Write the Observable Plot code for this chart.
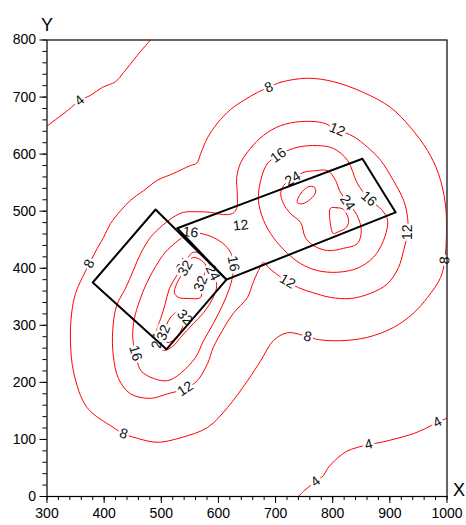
<!DOCTYPE html>
<html>
<head>
<meta charset="utf-8">
<script src="https://cdn.jsdelivr.net/npm/d3@7"></script>
<script src="https://cdn.jsdelivr.net/npm/@observablehq/plot@0.6"></script>
<style>
  html, body { margin: 0; padding: 0; background: #fff; }
  #chart { width: 466px; height: 525px; }
</style>
</head>
<body>
<div id="chart"></div>
<script>
// Isolines of the measured field (open lines and closed loops), in X/Y units
const contour4 = [
  [[301,650],[338,678],[357,694],[376,703],[397,717],[420,727],[434,743],[458,773],[481,800]],
  [[738,-2],[751,11],[770,26],[784,37],[791,49],[808,67],[824,79],[843,86],[863,91],[885,95],[913,102],[941,110],[962,119],[983,130],[1002,138]]
];
const contour8 = [
  [[688,717],[709,726],[756,733],[801,727],[854,708],[901,682],[936,647],[966,606],[985,566],[997,514],[999,460],[996,414],[989,384],[966,349],[941,321],[906,296],[861,279],[814,273],[775,275],[756,280],[721,287],[696,273],[674,238],[651,203],[616,156],[581,121],[534,103],[493,95],[458,102],[434,110],[416,121],[370,156],[347,216],[341,274],[343,320],[350,356],[362,384],[374,408],[388,435],[399,454],[411,478],[429,501],[446,519],[469,536],[493,554],[521,566],[551,580],[562,584],[569,601],[581,629],[598,654],[621,678],[644,694],[668,708]]
];
const contour12 = [
  [[808,643],[836,631],[861,612],[884,589],[906,554],[924,519],[931,489],[931,463],[924,431],[915,401],[896,373],[866,356],[831,347],[796,349],[766,357],[740,366],[721,377],[700,391],[688,401],[679,410],[670,396],[660,373],[651,349],[626,321],[607,291],[591,261],[581,233],[563,203],[542,189],[511,180],[481,172],[446,180],[425,207],[416,247],[415,291],[422,335],[437,364],[451,396],[464,426],[481,454],[502,475],[520,489],[539,498],[563,499],[586,498],[609,494],[625,496],[632,505],[633,531],[632,559],[639,585],[656,610],[679,633],[709,650],[744,657],[782,655]]
];
const contour16 = [
  [[705,598],[686,584],[674,554],[670,519],[679,484],[696,454],[721,426],[744,408],[773,396],[808,393],[843,400],[871,419],[889,449],[896,484],[887,501],[863,522],[843,549],[826,589],[801,610],[773,615],[738,612],[714,603]],
  [[551,463],[569,461],[591,454],[612,440],[623,424],[626,408],[625,387],[618,361],[607,335],[591,303],[574,273],[560,244],[534,216],[511,203],[486,207],[464,221],[455,251],[450,279],[453,312],[462,343],[474,373],[490,403],[507,428],[525,445],[541,457]]
];
const contour24 = [
  [[730,557],[749,568],[770,571],[791,571],[805,554],[812,536],[826,515],[842,494],[850,466],[843,443],[819,435],[791,431],[766,440],[752,454],[744,480],[726,496],[714,513],[709,531],[714,545]],
  [[556,428],[577,419],[590,392],[597,370],[591,349],[574,322],[556,303],[534,279],[520,263],[504,256],[492,265],[493,273],[492,291],[499,312],[507,338],[514,364],[525,384],[539,405]]
];
const contour32 = [
  [[738,515],[744,531],[758,543],[768,542],[770,533],[761,521],[747,513]],
  [[796,505],[807,506],[819,503],[828,482],[822,470],[810,464],[801,461],[796,478]],
  [[556,419],[577,407],[576,391],[569,373],[569,349],[548,347],[530,349],[523,357],[527,373],[534,386],[542,400]],
  [[504,287],[511,305],[521,319],[532,324],[541,314],[537,296],[527,280],[514,270],[506,273]]
];

// Where each level's value is written along its line
const labels4 = [[357,694],[770,26],[863,91],[983,130]];
const labels8 = [[688,717],[996,414],[756,280],[434,110],[374,408]];
const labels12 = [[808,643],[931,463],[721,377],[542,189],[639,475]];
const labels16 = [[705,598],[863,522],[551,463],[626,408],[455,251]];
const labels24 = [[730,557],[826,515],[590,392],[493,273],[539,405]];
const labels32 = [[569,373],[542,400],[504,287],[541,314]];

// Outlines of the two blocks
const blocks = [
  [[490,503],[380,375],[509,258],[614,380]],
  [[528,470],[852,592],[910,498],[614,380]]
];

const xTicks = d3.range(300, 1001, 100);
const yTicks = d3.range(0, 801, 100);
const xMinor = d3.range(300, 1001, 20);
const yMinor = d3.range(0, 801, 20);

const W = 466, H = 525;
const M = {top: 39.5, right: 19.5, bottom: 29, left: 46.5};
const kx = (W - M.left - M.right) / 700;
const ky = (H - M.top - M.bottom) / 800;

const levels = [
  {level: 4, lines: contour4, closed: false, labels: labels4},
  {level: 8, lines: contour8, closed: true, labels: labels8},
  {level: 12, lines: contour12, closed: true, labels: labels12},
  {level: 16, lines: contour16, closed: true, labels: labels16},
  {level: 24, lines: contour24, closed: true, labels: labels24},
  {level: 32, lines: contour32, closed: true, labels: labels32}
];

const openRows = [], closedRows = [], labelRows = [];
let sid = 0;
for (const L of levels) {
  for (const seg of L.lines) {
    const id = sid++;
    for (const [x, y] of seg) (L.closed ? closedRows : openRows).push({x, y, id, level: L.level});
  }
}

// text follows the direction of the nearest stretch of its own isoline
function angleAt(L, x, y) {
  const px = x * kx, py = -y * ky;
  let best = Infinity, ang = 0;
  for (const seg of L.lines) {
    const pts = L.closed ? [...seg, seg[0]] : seg;
    for (let i = 0; i < pts.length - 1; i++) {
      const ax = pts[i][0] * kx, ay = -pts[i][1] * ky;
      const bx = pts[i + 1][0] * kx, by = -pts[i + 1][1] * ky;
      const dx = bx - ax, dy = by - ay;
      const len2 = dx * dx + dy * dy || 1;
      let t = ((px - ax) * dx + (py - ay) * dy) / len2;
      t = Math.max(0, Math.min(1, t));
      const d = Math.hypot(ax + t * dx - px, ay + t * dy - py);
      if (d < best) { best = d; ang = Math.atan2(dy, dx) * 180 / Math.PI; }
    }
  }
  while (ang >= 90) ang -= 180;
  while (ang < -90) ang += 180;
  return ang;
}
for (const L of levels) {
  for (const [x, y] of L.labels) labelRows.push({x, y, text: String(L.level), angle: angleAt(L, x, y)});
}

const blockRows = blocks.flatMap((b, i) => b.map(([x, y]) => ({x, y, id: i})));

const chart = Plot.plot({
  width: W,
  height: H,
  marginTop: M.top,
  marginRight: M.right,
  marginBottom: M.bottom,
  marginLeft: M.left,
  x: {domain: [300, 1000], label: null},
  y: {domain: [0, 800], label: null},
  style: {fontFamily: "'Liberation Sans', Arial, sans-serif", fontSize: "14px", color: "black", background: "white"},
  marks: [
    Plot.line(openRows, {x: "x", y: "y", z: "id", curve: "catmull-rom", stroke: "#ff0000", strokeWidth: 1, clip: true}),
    Plot.line(closedRows, {x: "x", y: "y", z: "id", curve: "catmull-rom-closed", stroke: "#ff0000", strokeWidth: 1, clip: true}),
    Plot.text(labelRows, {x: "x", y: "y", text: "text", rotate: "angle", fontSize: 14, fill: "#111", stroke: "white", strokeWidth: 5}),
    Plot.line(blockRows, {x: "x", y: "y", z: "id", curve: "linear-closed", stroke: "black", strokeWidth: 2}),
    Plot.frame({stroke: "black", strokeWidth: 1.2}),
    Plot.axisX({ticks: xMinor, tickSize: 4, tickFormat: () => "", label: null, strokeWidth: 1}),
    Plot.axisY({ticks: yMinor, tickSize: 4, tickFormat: () => "", label: null, strokeWidth: 1}),
    Plot.axisX({ticks: xTicks, tickSize: 7, tickPadding: 5, tickFormat: d3.format("d"), label: null, fontSize: 14}),
    Plot.axisY({ticks: yTicks, tickSize: 7, tickPadding: 4, tickFormat: d3.format("d"), label: null, fontSize: 14}),
    Plot.text(["Y"], {frameAnchor: "top-left", textAnchor: "middle", dy: -22, fontSize: 18}),
    Plot.text(["X"], {frameAnchor: "bottom-right", textAnchor: "middle", dx: 12, dy: -1, fontSize: 18})
  ]
});
document.getElementById("chart").appendChild(chart);
</script>
</body>
</html>
